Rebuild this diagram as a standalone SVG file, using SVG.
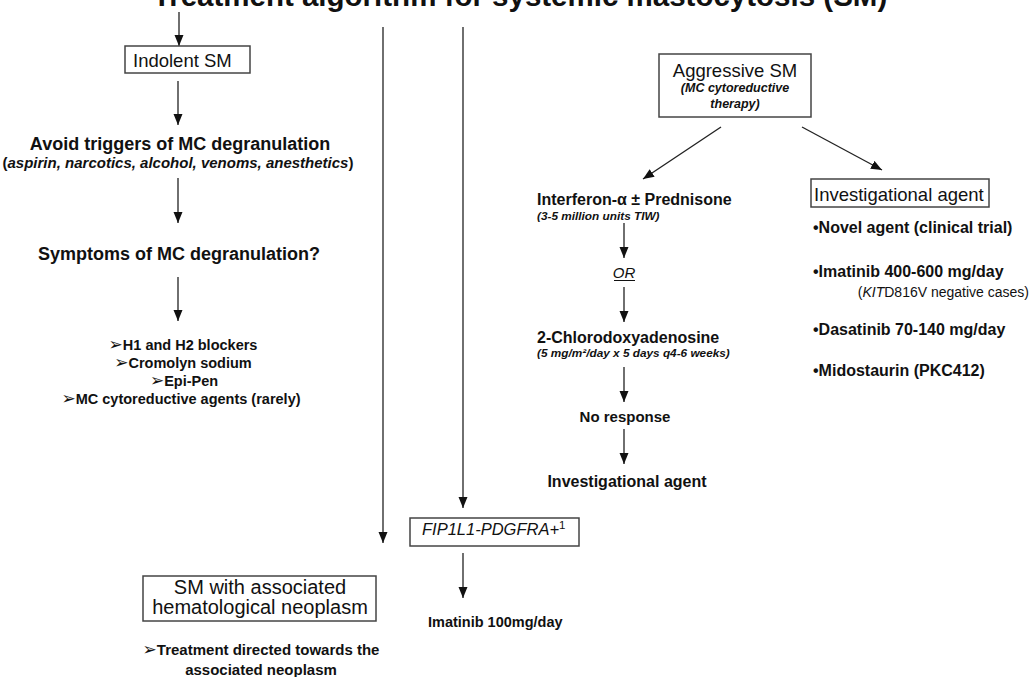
<svg xmlns="http://www.w3.org/2000/svg" width="1031" height="677" viewBox="0 0 1031 677">
<style>
text{font-family:"Liberation Sans",Arial,sans-serif;fill:#111}
.t{font-size:29.5px;font-weight:bold}
.box{fill:#fff;stroke:#444;stroke-width:1.5}
.bx{font-size:18.5px}
.h{font-size:18px;font-weight:bold}
.b16{font-size:16px;font-weight:bold}
.b15{font-size:15px;font-weight:bold}
.b14{font-size:14.5px;font-weight:bold}
.bi{font-size:12.5px;font-weight:bold;font-style:italic}
.ar{font-family:"DejaVu Sans",sans-serif;font-weight:normal;font-size:17px}
.c{stroke:#222;stroke-width:1.3;fill:none;marker-end:url(#ah)}
</style>
<defs>
<marker id="ah" markerUnits="userSpaceOnUse" markerWidth="12" markerHeight="10" refX="11" refY="4.5" orient="auto">
<path d="M0,0 L11,4.5 L0,9 z" fill="#111"/>
</marker>
</defs>
<rect width="1031" height="677" fill="#fff"/>
<text class="t" x="520" y="6" text-anchor="middle">Treatment algorithm for systemic mastocytosis (SM)</text>

<g id="connectors">
<line class="c" x1="179" y1="12" x2="179" y2="46"/>
<line class="c" x1="178" y1="81" x2="178" y2="125"/>
<line class="c" x1="178" y1="178" x2="178" y2="223"/>
<line class="c" x1="178" y1="277" x2="178" y2="321"/>
<line class="c" x1="383" y1="27" x2="383" y2="543"/>
<line class="c" x1="463" y1="27" x2="463" y2="508"/>
<line class="c" x1="721" y1="127" x2="643" y2="179"/>
<line class="c" x1="802" y1="127" x2="882" y2="170"/>
<line class="c" x1="624" y1="223" x2="624" y2="258"/>
<line class="c" x1="624" y1="287" x2="624" y2="322"/>
<line class="c" x1="624" y1="367" x2="624" y2="402"/>
<line class="c" x1="624" y1="429" x2="624" y2="464"/>
<line class="c" x1="463" y1="553" x2="463" y2="598"/>
</g>

<g id="indolent">
<rect class="box" x="125" y="46" width="125" height="27"/>
<text class="bx" x="133" y="67">Indolent SM</text>
</g>

<g id="avoid">
<text class="h" x="180" y="150" text-anchor="middle">Avoid triggers of MC degranulation</text>
<text x="178" y="168" text-anchor="middle" style="font-size:15px;font-weight:bold">(<tspan font-style="italic">aspirin, narcotics, alcohol, venoms, anesthetics</tspan>)</text>
</g>

<g id="symptoms">
<text class="h" x="179" y="260" text-anchor="middle">Symptoms of MC degranulation?</text>
</g>

<g id="treatments-list">
<text class="b14" x="183" y="350" text-anchor="middle"><tspan class="ar">➢</tspan>H1 and H2 blockers</text>
<text class="b14" x="183" y="368" text-anchor="middle"><tspan class="ar">➢</tspan>Cromolyn sodium</text>
<text class="b14" x="184" y="386" text-anchor="middle"><tspan class="ar">➢</tspan>Epi-Pen</text>
<text class="b14" x="181" y="404" text-anchor="middle"><tspan class="ar">➢</tspan>MC cytoreductive agents (rarely)</text>
</g>

<g id="aggressive">
<rect class="box" x="659" y="54" width="152" height="63"/>
<text class="bx" x="735" y="77" text-anchor="middle">Aggressive SM</text>
<text class="bi" x="735" y="92" text-anchor="middle">(MC cytoreductive</text>
<text class="bi" x="735" y="108" text-anchor="middle">therapy)</text>
</g>

<g id="interferon">
<text class="b16" x="537" y="205">Interferon-α ± Prednisone</text>
<text class="bi" x="537" y="220" style="font-size:11.8px">(3-5 million units TIW)</text>
</g>

<g id="or">
<text x="624" y="278" text-anchor="middle" style="font-size:15px;font-style:italic">OR</text>
<line x1="614" y1="280.5" x2="635" y2="280.5" stroke="#111" stroke-width="1"/>
</g>

<g id="cladribine">
<text class="b16" x="537" y="343">2-Chlorodoxyadenosine</text>
<text class="bi" x="537" y="357" style="font-size:11.8px">(5 mg/m²/day x 5 days q4-6 weeks)</text>
</g>

<g id="noresponse">
<text class="b15" x="625" y="422" text-anchor="middle">No response</text>
</g>

<g id="invest-agent">
<text class="b16" x="627" y="487" text-anchor="middle">Investigational agent</text>
</g>

<g id="investigational">
<rect class="box" x="811" y="179" width="178" height="28"/>
<text class="bx" x="814" y="201">Investigational agent</text>
<text class="b16" x="813" y="233">•Novel agent (clinical trial)</text>
<text class="b16" x="813" y="277">•Imatinib 400-600 mg/day</text>
<text x="1029" y="297" text-anchor="end" style="font-size:14px">(<tspan font-style="italic">KIT</tspan>D816V negative cases)</text>
<text class="b16" x="813" y="335">•Dasatinib 70-140 mg/day</text>
<text class="b16" x="813" y="376">•Midostaurin (PKC412)</text>
</g>

<g id="fip1l1">
<rect class="box" x="410" y="518" width="169" height="28"/>
<text x="422" y="535" style="font-size:16.5px;font-style:italic">FIP1L1-PDGFRA+<tspan font-style="normal" font-size="11.5px" dy="-6">1</tspan></text>
</g>

<g id="imatinib100">
<text class="b14" x="428" y="627">Imatinib 100mg/day</text>
</g>

<g id="ahn">
<rect class="box" x="143" y="576" width="233" height="45"/>
<text x="260" y="594" text-anchor="middle" style="font-size:20px">SM with associated</text>
<text x="260" y="614" text-anchor="middle" style="font-size:20px">hematological neoplasm</text>
<text class="b14" x="261" y="655" text-anchor="middle" style="font-size:15px"><tspan class="ar">➢</tspan>Treatment directed towards the</text>
<text class="b14" x="261" y="675" text-anchor="middle" style="font-size:15px">associated neoplasm</text>
</g>
</svg>
